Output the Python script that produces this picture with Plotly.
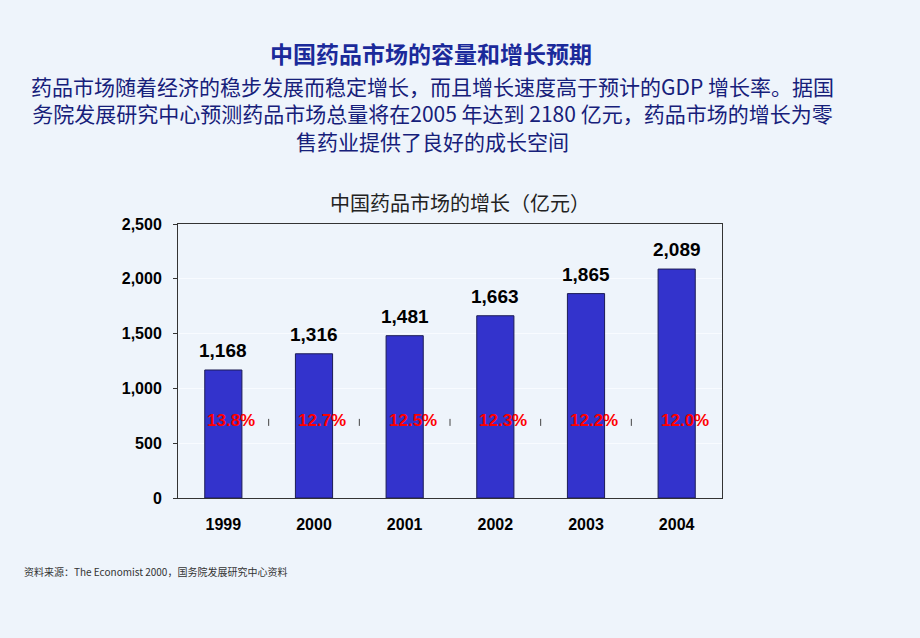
import plotly.graph_objects as go

# ==================================================
# Data
# ==================================================

years = ["1999", "2000", "2001", "2002", "2003", "2004"]
market_size = [1168, 1316, 1481, 1663, 1865, 2089]
growth_labels = ["13.8%", "12.7%", "12.5%", "12.3%", "12.2%", "12.0%"]

y_ticks = [0, 500, 1000, 1500, 2000, 2500]

title_text = "中国药品市场的容量和增长预期"
subtitle_lines = [
    "药品市场随着经济的稳步发展而稳定增长，而且增长速度高于预计的GDP 增长率。据国",
    "务院发展研究中心预测药品市场总量将在2005 年达到 2180 亿元，药品市场的增长为零",
    "售药业提供了良好的成长空间",
]
chart_title = "中国药品市场的增长（亿元）"
source_text = "资料来源：The Economist 2000，国务院发展研究中心资料"

BG = "#EEF4FB"
CJK = "Noto Sans CJK SC"
NUM = "Liberation Sans, Arial"

W, H = 920, 638
L, R, T, B = 178, 198, 224, 140


def px_to_paper(xp, yp):
    # paper coords in plotly are relative to the plot area
    return (xp - L) / (W - L - R), (H - B - yp) / (H - T - B)


x_pos = list(range(len(years)))

# ==================================================
# Figure
# ==================================================

fig = go.Figure()

fig.add_trace(go.Bar(
    x=x_pos,
    y=market_size,
    width=0.41,
    marker=dict(color="#3333CC", line=dict(color="#1C1C55", width=1)),
    hoverinfo="skip",
    showlegend=False,
))

# little separator ticks between the bars (from the hidden growth series)
fig.add_trace(go.Scatter(
    x=[i + 0.5 for i in x_pos[:-1]],
    y=[690] * (len(years) - 1),
    mode="markers",
    marker=dict(symbol="line-ns", size=5, line=dict(color="#444444", width=1)),
    hoverinfo="skip",
    showlegend=False,
))

# value labels above bars
for xi, v in zip(x_pos, market_size):
    fig.add_annotation(
        x=xi, y=v, text=f"{v:,}", showarrow=False,
        yanchor="bottom", yshift=7,
        font=dict(family=NUM, size=19, color="black", weight="bold"),
    )

# growth labels in red
for xi, g in zip(x_pos, growth_labels):
    fig.add_annotation(
        x=xi, y=705, text=g, showarrow=False,
        xanchor="center", yanchor="middle", xshift=8,
        font=dict(family=NUM, size=17, color="#FF0000", weight="bold"),
    )

# headings
tx, ty = px_to_paper(431, 53)
fig.add_annotation(
    x=tx, y=ty, xref="paper", yref="paper", text=f"<b>{title_text}</b>",
    showarrow=False, xanchor="center", yanchor="middle",
    font=dict(family=CJK, size=23, color="#1B2A9A"),
)
sx, sy = px_to_paper(432, 114)
fig.add_annotation(
    x=sx, y=sy, xref="paper", yref="paper", text="<br>".join(subtitle_lines),
    showarrow=False, xanchor="center", yanchor="middle", align="center",
    font=dict(family=CJK, size=21, color="#16207A"),
)

cx, cy = px_to_paper(460, 202)
fig.add_annotation(
    x=cx, y=cy, xref="paper", yref="paper", text=chart_title,
    showarrow=False, xanchor="center", yanchor="middle",
    font=dict(family=CJK, size=20, color="#222222"),
)
nx, ny = px_to_paper(22, 571)
fig.add_annotation(
    x=nx, y=ny, xref="paper", yref="paper", text=source_text,
    showarrow=False, xanchor="left", yanchor="middle",
    font=dict(family=CJK, size=10, color="#333333"),
)

# ==================================================
# Layout
# ==================================================

fig.update_layout(
    width=W,
    height=H,
    margin=dict(l=L, r=R, t=T, b=B),
    paper_bgcolor=BG,
    plot_bgcolor=BG,
)

fig.update_xaxes(
    tickvals=x_pos,
    ticktext=years,
    range=[-0.5, len(years) - 0.5],
    showgrid=False,
    showline=True,
    linecolor="#333333",
    linewidth=1,
    mirror=True,
    ticks="",
    ticklabelstandoff=12,
    tickfont=dict(family=NUM, size=16, color="black", weight="bold"),
)
fig.update_yaxes(
    range=[0, 2500],
    tickvals=y_ticks,
    tickformat=",",
    showgrid=True,
    gridcolor="#F8FBFF",
    showline=True,
    linecolor="#333333",
    linewidth=1,
    mirror=True,
    ticks="outside",
    ticklen=4,
    tickcolor="#333333",
    ticklabelstandoff=8,
    tickfont=dict(family=NUM, size=16, color="black", weight="bold"),
    zeroline=False,
)

fig.write_html(
    "out.html",
    config={"displayModeBar": False},
    post_script="document.body.style.margin='0';document.body.style.overflow='hidden';",
)
